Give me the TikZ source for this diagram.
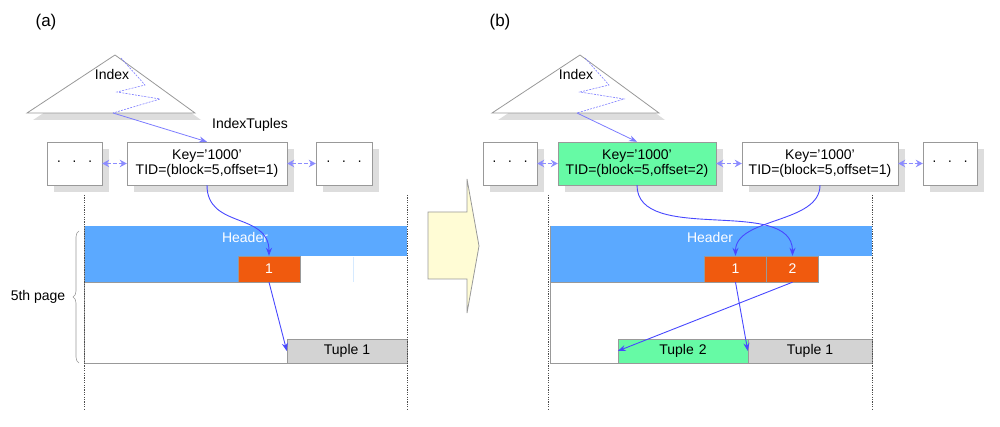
\documentclass[tikz,border=0pt]{standalone}
\usepackage{fontspec}
\setmainfont{Liberation Sans}
\usetikzlibrary{arrows.meta,decorations.pathreplacing}
\definecolor{hdr}{HTML}{5BA9FF}
\definecolor{slot}{HTML}{F05A0E}
\definecolor{grn}{HTML}{66FAA5}
\definecolor{tupgray}{HTML}{D3D3D3}
\definecolor{edge}{HTML}{999999}
\definecolor{shadowc}{HTML}{DDDDDD}
\definecolor{arrA}{HTML}{4848FF}
\definecolor{arrB}{HTML}{7C7CFF}
\definecolor{dbl}{HTML}{8C8CFF}
\definecolor{bigarr}{HTML}{FFFCD5}
\tikzset{
  txt/.style={font=\fontsize{14}{15}\selectfont},
  keybox/.style={draw=edge,fill=white,minimum height=43pt,inner sep=0pt,align=center,txt,
    preaction={draw=none,fill=shadowc,transform canvas={shift={(7pt,-7pt)}}}},
  slotbox/.style={draw=edge,fill=slot,minimum height=26pt,inner sep=0pt,text=white,txt},
  tupbox/.style={draw=edge,minimum height=24pt,inner sep=0pt,txt},
  pagearr/.style={draw=arrA,line width=0.9pt,-{Stealth[length=8pt,width=6pt]}},
  idxarr/.style={draw=arrB,line width=0.8pt,-{Stealth[length=8pt,width=6pt]}},
  dblarr/.style={draw=dbl,line width=1.7pt,dash pattern=on 4pt off 2pt,{Stealth[length=7pt,width=7.5pt]}-{Stealth[length=7pt,width=7.5pt]}},
  zig/.style={draw=arrB,line width=0.6pt,dash pattern=on 2pt off 1.2pt},
  vdot/.style={draw=black!70,line width=0.8pt,dash pattern=on 1.2pt off 1.2pt},
}
\begin{document}
\begin{tikzpicture}[x=1pt,y=-1pt]
\useasboundingbox (0,0) rectangle (1000,427);

% ===================== (a) =====================
\node[font=\fontsize{17}{19}\selectfont] (labA) at (46,22) {(a)};
% index triangle
\fill[shadowc] (121,62) -- (201,120) -- (33,120) -- cycle;
\draw[edge,fill=white,line width=0.8pt] (115,55) -- (195,113) -- (27,113) -- cycle;
\node[txt] (idxA) at (112,74) {Index};
\coordinate (zA) at (113,113);
\draw[zig] (121,58) -- (145,85) -- (117,92) -- (160,99) -- (zA);
\node[txt] (itA) at (250,125) {IndexTuples};
% boxes
\node[keybox,minimum width=55pt] (la) at (74.5,163.5) {·\hspace{11pt}·\hspace{11pt}·};
\node[keybox,minimum width=160pt] (ka) at (207,163.5) {Key=’1000’\\TID=(block=5,offset=1)};
\node[keybox,minimum width=56pt] (ra) at (344,163.5) {·\hspace{11pt}·\hspace{11pt}·};
\draw[dblarr] (la) -- (ka);
\draw[dblarr] (ka) -- (ra);
\draw[idxarr] (zA) -- (ka.north);
% page
\fill[hdr] (84,226) rectangle (407,256);
\fill[hdr] (84,256) rectangle (238,282);
\draw[edge,line width=0.8pt] (84,226) -- (84,363) -- (407,363);
\draw[edge,line width=0.8pt] (84,282) -- (238,282);
\draw[hdr!25,line width=0.6pt] (353,257) -- (353,282);
\node[txt,text=white] (hA) at (245,237) {Header};
\node[slotbox,minimum width=62pt] (sa1) at (269,269) {1};
\node[tupbox,fill=tupgray,minimum width=120pt] (ta1) at (347,351) {Tuple 1};
\draw[vdot] (84,195) -- (84,410);
\draw[vdot] (407,195) -- (407,410);
\draw[edge,line width=0.6pt,decorate,decoration={brace,amplitude=6pt}] (79,363) -- (79,231);
\node[txt] (pgA) at (38,297) {5th page};
\draw[pagearr] (ka.south) to[out=-90,in=90,looseness=1.2] (sa1.north);
\draw[pagearr] (sa1.south) -- (ta1.west);

% ===================== big arrow =====================
\draw[edge,fill=bigarr,line width=0.8pt] (428,212) -- (467,212) -- (467,179) -- (479,246) -- (467,313) -- (467,279) -- (428,279) -- cycle;

% ===================== (b) =====================
\node[font=\fontsize{17}{19}\selectfont] (labB) at (500,22) {(b)};
\fill[shadowc] (586,62) -- (665,120) -- (498,120) -- cycle;
\draw[edge,fill=white,line width=0.8pt] (580,55) -- (659,113) -- (492,113) -- cycle;
\node[txt] (idxB) at (576,74) {Index};
\coordinate (zB) at (577,113);
\draw[zig] (585,58) -- (609,85) -- (580,92) -- (624,99) -- (zB);
\node[keybox,minimum width=54pt] (lb) at (510,163.5) {·\hspace{11pt}·\hspace{11pt}·};
\node[keybox,minimum width=158pt,fill=grn] (kb1) at (637,163.5) {Key=’1000’\\TID=(block=5,offset=2)};
\node[keybox,minimum width=156pt] (kb2) at (820,163.5) {Key=’1000’\\TID=(block=5,offset=1)};
\node[keybox,minimum width=54pt] (rb) at (950,163.5) {·\hspace{11pt}·\hspace{11pt}·};
\draw[dblarr] (lb) -- (kb1);
\draw[dblarr] (kb1) -- (kb2);
\draw[dblarr] (kb2) -- (rb);
\draw[idxarr] (zB) -- (kb1.north);
% page
\fill[hdr] (550,226) rectangle (872,256);
\fill[hdr] (550,256) rectangle (705,282);
\draw[edge,line width=0.8pt] (550,226) -- (550,363) -- (872,363);
\draw[edge,line width=0.8pt] (550,282) -- (705,282);
\node[txt,text=white] (hB) at (710,237) {Header};
\node[slotbox,minimum width=62pt] (sb1) at (735.5,269) {1};
\node[slotbox,minimum width=52pt] (sb2) at (792.5,269) {2};
\node[tupbox,fill=grn,minimum width=130pt] (tb2) at (683,351) {Tuple\hspace{5pt}2};
\node[tupbox,fill=tupgray,minimum width=124pt] (tb1) at (810,351) {Tuple 1};
\draw[vdot] (548,195) -- (548,410);
\draw[vdot] (872,195) -- (872,410);
\draw[pagearr] (kb1.south) to[out=-90,in=90,looseness=0.9] (sb2.north);
\draw[pagearr] (kb2.south) to[out=-90,in=90,looseness=0.9] (sb1.north);
\draw[pagearr] (sb1.south) -- (tb1.west);
\draw[pagearr] (sb2.south) -- (tb2.west);
\end{tikzpicture}
\end{document}
